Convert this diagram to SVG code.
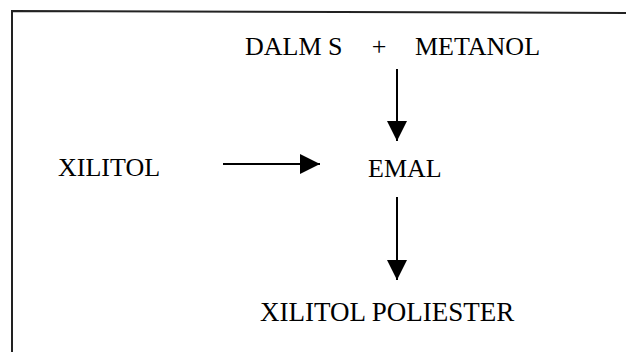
<svg xmlns="http://www.w3.org/2000/svg" width="626" height="352" viewBox="0 0 626 352">
  <style>
    .lbl { font-family: "Liberation Serif", "Times New Roman", serif; font-size: 26px; fill: #000; }
    .wide { font-size: 27px; }
    .edge { stroke: #000; stroke-width: 2; fill: none; }
    .frame { stroke: #222; stroke-width: 2; fill: none; }
  </style>
  <defs>
    <marker id="head" viewBox="0 0 20 20" refX="20" refY="10" markerWidth="20" markerHeight="20" markerUnits="userSpaceOnUse" orient="auto">
      <path d="M0,0 L20,10 L0,20 Z" fill="#000"/>
    </marker>
  </defs>
  <rect width="626" height="352" fill="#fff"/>

  <!-- page frame: top and left rules -->
  <path class="frame" d="M12,352 L12,11 L626,13"/>

  <g id="dalm-metanol">
    <text class="lbl" x="245" y="55">DALM S</text>
    <text class="lbl" x="379" y="55" text-anchor="middle">+</text>
    <text class="lbl" x="415" y="55">METANOL</text>
  </g>
  <g id="xilitol">
    <text class="lbl" x="58" y="176">XILITOL</text>
  </g>
  <g id="emal">
    <text class="lbl" x="368" y="177">EMAL</text>
  </g>
  <g id="xilitol-poliester">
    <text class="lbl wide" x="260" y="321">XILITOL POLIESTER</text>
  </g>

  <g id="connectors">
    <line class="edge" x1="397" y1="69" x2="397" y2="141" marker-end="url(#head)"/>
    <line class="edge" x1="223" y1="164" x2="320" y2="164" marker-end="url(#head)"/>
    <line class="edge" x1="397" y1="197" x2="397" y2="280" marker-end="url(#head)"/>
  </g>
</svg>
